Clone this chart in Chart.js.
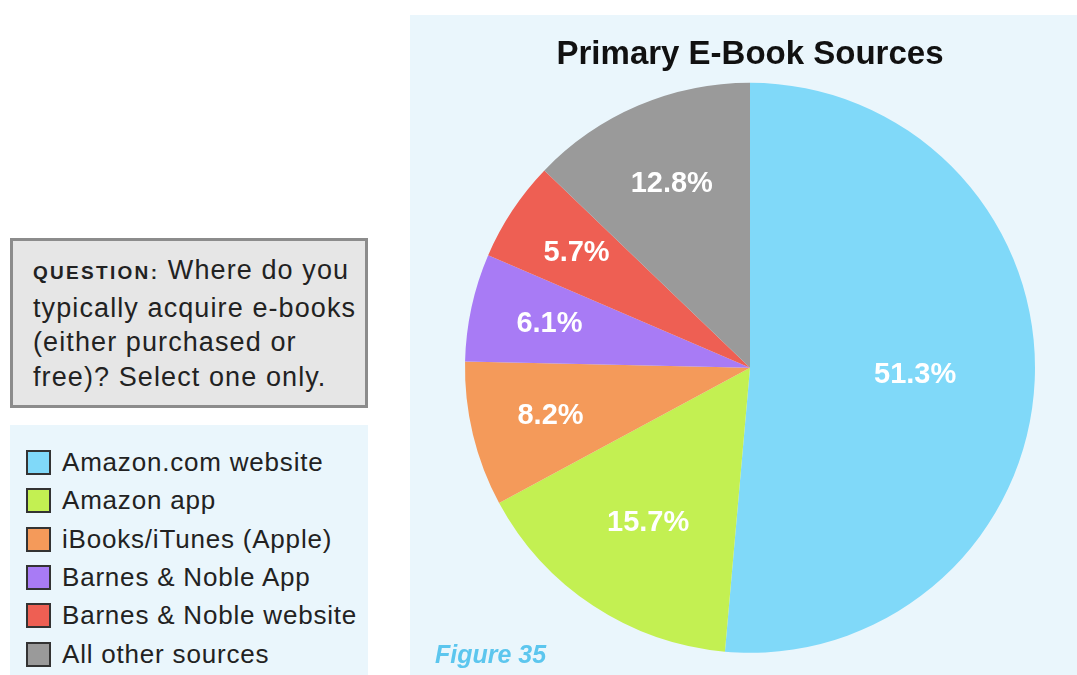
<!DOCTYPE html>
<html>
<head>
<meta charset="utf-8">
<script src="https://cdn.jsdelivr.net/npm/chart.js@4"></script>
<style>
  body { margin: 0; width: 1077px; height: 675px; background: #fff; position: relative; overflow: hidden;
         font-family: "Liberation Sans", Arial, sans-serif; color: #222; }
  #question { position: absolute; left: 10px; top: 238px; width: 352px; height: 164px;
              background: #e6e6e6; border: 3px solid #8c8c8c; }
  #question p { margin: 0; position: absolute; left: 20px; top: 12px; font-size: 27px; line-height: 34.5px;
                letter-spacing: 1.1px; color: #222; }
  #question b { font-size: 19px; letter-spacing: 2.3px; }
  #legendBox { position: absolute; left: 10px; top: 425px; width: 358px; height: 250px; background: #eaf6fc; }
  .item { position: absolute; left: 16px; height: 30px; font-size: 26px; letter-spacing: 0.8px; line-height: 30px; color: #222; }
  .item span.sw { position: absolute; left: 0; top: 3px; width: 21px; height: 21px; border: 2px solid #333; }
  .item span.tx { position: absolute; left: 36px; white-space: nowrap; }
  #panel { position: absolute; left: 410px; top: 15px; width: 667px; height: 660px; background: #eaf6fc; }
  #fig { position: absolute; left: 25px; top: 625px; font-size: 25px; font-weight: bold; font-style: italic; color: #5cc6ee; }
</style>
</head>
<body>
<div id="question"><p><b>QUESTION:</b> Where do you<br>typically acquire e-books<br>(either purchased or<br>free)? Select one only.</p></div>
<div id="legendBox"></div>
<div id="panel">
  <canvas id="pie" width="667" height="660"></canvas>
  <div id="fig">Figure 35</div>
</div>
<script>
// E-book sources, % of respondents
const labels = ['Amazon.com website', 'Amazon app', 'iBooks/iTunes (Apple)', 'Barnes & Noble App', 'Barnes & Noble website', 'All other sources'];
const shares = [51.3, 15.7, 8.2, 6.1, 5.7, 12.8];
const colors = ['#80d9f9', '#c3f052', '#f49a5a', '#a87bf5', '#ee5f53', '#9a9a9a'];

// html legend on the left
const box = document.getElementById('legendBox');
labels.forEach((l, i) => {
    const d = document.createElement('div');
    d.className = 'item';
    d.style.top = (22 + i * 38.3) + 'px';
    d.innerHTML = '<span class="sw" style="background:' + colors[i] + '"></span><span class="tx"></span>';
    d.querySelector('.tx').textContent = l;
    box.appendChild(d);
});

// percent labels inside slices
const sliceLabels = {
    id: 'sliceLabels',
    afterDatasetsDraw(chart, args, opts) {
        const ctx = chart.ctx;
        const meta = chart.getDatasetMeta(0);
        ctx.save();
        ctx.fillStyle = '#fff';
        ctx.font = 'bold 29px "Liberation Sans", Arial, sans-serif';
        ctx.textAlign = 'center';
        ctx.textBaseline = 'middle';
        meta.data.forEach((arc, i) => {
            const mid = (arc.startAngle + arc.endAngle) / 2;
            const r = arc.outerRadius * opts.depth[i];
            ctx.fillText(shares[i].toFixed(1) + '%', arc.x + Math.cos(mid) * r, arc.y + Math.sin(mid) * r);
        });
        ctx.restore();
    }
};

new Chart(document.getElementById('pie'), {
    type: 'pie',
    data: {
        labels: labels,
        datasets: [{ data: shares, backgroundColor: colors, borderWidth: 0 }]
    },
    options: {
        responsive: false,
        animation: false,
        layout: { padding: { left: 55, right: 42, bottom: 22 } },
        plugins: {
            legend: { display: false },
            tooltip: { enabled: false },
            title: {
                display: true,
                text: 'Primary E-Book Sources',
                color: '#111',
                font: { family: '"Liberation Sans", Arial, sans-serif', size: 33, weight: 'bold' },
                padding: { top: 20, bottom: 8 }
            },
            sliceLabels: { depth: [0.58, 0.65, 0.72, 0.72, 0.73, 0.7] }
        }
    },
    plugins: [sliceLabels]
});
</script>
</body>
</html>
